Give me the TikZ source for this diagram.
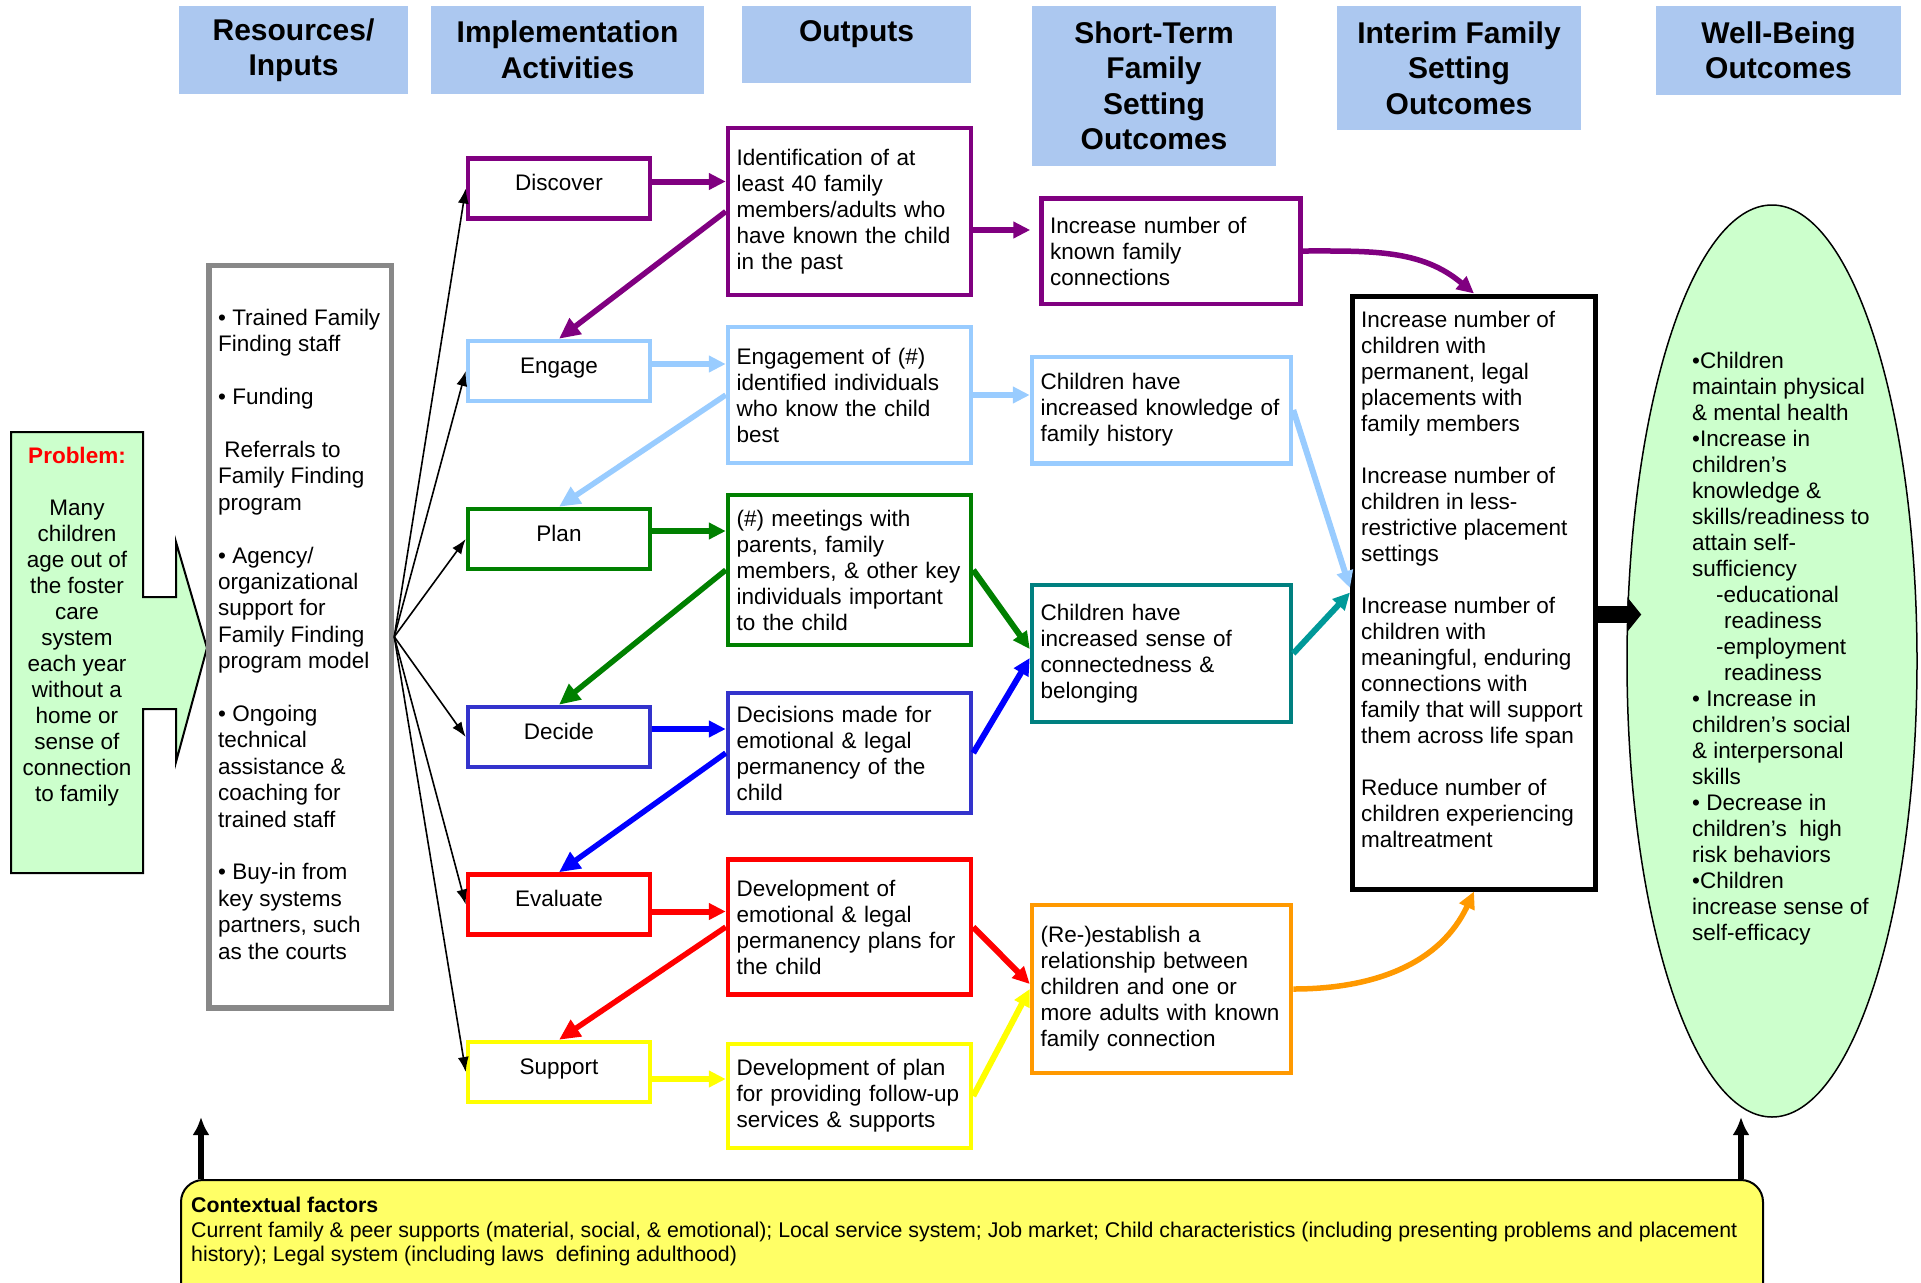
\documentclass[tikz,border=0pt]{standalone}
\usepackage{fontspec}
\setmainfont{Liberation Sans}
\usepackage{xcolor}
\usepackage{tikz}
\usetikzlibrary{calc}
\usetikzlibrary{arrows.meta}
\usetikzlibrary{shapes}
\usetikzlibrary{shapes.geometric}
\usetikzlibrary{positioning}

\definecolor{hdrblue}{RGB}{172,200,240}
\definecolor{ffpurple}{RGB}{128,0,128}
\definecolor{fflightblue}{RGB}{153,204,255}
\definecolor{ffgreen}{RGB}{0,128,0}
\definecolor{ffslate}{RGB}{51,51,204}
\definecolor{ffblue}{RGB}{0,0,255}
\definecolor{ffred}{RGB}{255,0,0}
\definecolor{ffyellow}{RGB}{255,255,0}
\definecolor{ffteal}{RGB}{0,128,128}
\definecolor{ffaqua}{RGB}{0,153,153}
\definecolor{fforange}{RGB}{255,153,0}
\definecolor{ffmint}{RGB}{204,255,204}
\definecolor{ffcream}{RGB}{255,255,102}
\definecolor{ffgray}{RGB}{136,136,136}

\newcommand{\hdrfont}{\fontsize{30}{35.5}\selectfont\bfseries}
\newcommand{\txtfont}{\fontsize{22.5}{26}\selectfont}
\newcommand{\resfont}{\fontsize{22.5}{26.4}\selectfont}
\newcommand{\ctxfont}{\fontsize{21.3}{24.5}\selectfont}

\tikzset{>=latex}
\tikzstyle{hdr} = [rectangle, fill = hdrblue, align = center, font = \hdrfont, inner sep = 0pt]
\tikzstyle{act} = [rectangle, draw, line width = 4.5pt, minimum width = 182pt, minimum height = 60pt, text height = 16pt, text depth = 12pt, font = \txtfont, inner sep = 0pt]
\tikzstyle{outp} = [rectangle, draw, line width = 4.5pt, minimum width = 243pt, text width = 226pt, inner xsep = 8.5pt, align = left, font = \txtfont]
\tikzstyle{stout} = [outp, minimum width = 259pt, text width = 242pt]
\tikzstyle{plain} = [align = left, font = \txtfont, anchor = north west, inner sep = 0pt]
\tikzstyle{fwd} = [line width = 6pt, -{Triangle[length = 17pt, width = 16pt]}]
\tikzstyle{back} = [line width = 5.5pt, -{Triangle[length = 21pt, width = 19pt]}]
\tikzstyle{feed} = [line width = 1.6pt, -{Latex[length = 15pt, width = 11pt]}]
\tikzstyle{rise} = [line width = 6pt, -{Latex[length = 18pt, width = 17pt]}]

\begin{document}
\begin{tikzpicture}[x = 1pt, y = -1pt]
\useasboundingbox (0, 0) rectangle (1921, 1282);

% column headers
\node [hdr, minimum width = 229pt, minimum height = 88pt] (hres) at (293.5, 50) {Resources/\\Inputs};
\node [hdr, minimum width = 273pt, minimum height = 88pt] (hact) at (567.5, 50) {Implementation\\Activities};
\node [hdr, minimum width = 229pt, text height = 26.5pt, text depth = 33.5pt, inner ysep = 8.5pt] (hout) at (856.5, 44.5) {Outputs};
\node [hdr, minimum width = 244pt, minimum height = 160pt] (hshort) at (1154, 86) {Short-Term\\Family\\Setting\\Outcomes};
\node [hdr, minimum width = 244pt, minimum height = 124pt] (hinterim) at (1459, 68) {Interim Family\\Setting\\Outcomes};
\node [hdr, minimum width = 245pt, minimum height = 89pt] (hwell) at (1778.5, 50.5) {Well-Being\\Outcomes};

% problem
\draw [fill = ffmint, line width = 2pt] (11, 432) -- (143, 432) -- (143, 597) -- (176, 597) -- (176, 542) -- (207, 648) -- (176, 762) -- (176, 709) -- (143, 709) -- (143, 873) -- (11, 873) -- cycle;
\node [align = center, font = \txtfont, anchor = north, inner sep = 0pt] (problem) at (77, 447) {\textcolor{red}{\textbf{Problem:}}\\[26pt]Many\\children\\age out of\\the foster\\care\\system\\each year\\without a\\home or\\sense of\\connection\\to family};

% resources
\node [rectangle, draw = ffgray, line width = 5.5pt, minimum width = 182.5pt, minimum height = 742.5pt] (res) at (300.25, 636.75) {};
\node [plain, font = \resfont] (restext) at (218, 309) {• Trained Family\\Finding staff\\[26.4pt]• Funding\\[26.4pt]\ Referrals to\\Family Finding\\program\\[26.4pt]• Agency/\\organizational\\support for\\Family Finding\\program model\\[26.4pt]• Ongoing\\technical\\assistance \&\\coaching for\\trained staff\\[26.4pt]• Buy-in from\\key systems\\partners, such\\as the courts};

% activities
\node [act, draw = ffpurple] (discover) at (559, 188.5) {Discover};
\node [act, draw = fflightblue] (engage) at (559, 371) {Engage};
\node [act, draw = ffgreen] (plan) at (559, 539) {Plan};
\node [act, draw = ffslate] (decide) at (559, 737) {Decide};
\node [act, draw = ffred] (evaluate) at (559, 904.5) {Evaluate};
\node [act, draw = ffyellow] (support) at (559, 1072) {Support};

% outputs
\node [outp, draw = ffpurple, minimum height = 167pt] (ident) at (849.5, 211.5) {Identification of at\\least 40 family\\members/adults who\\have known the child\\in the past};
\node [outp, draw = fflightblue, minimum height = 136pt] (engagement) at (849.5, 395) {Engagement of (\#)\\identified individuals\\who know the child\\best};
\node [outp, draw = ffgreen, minimum height = 150pt] (meetings) at (849.5, 570) {(\#) meetings with\\parents, family\\members, \& other key\\individuals important\\to the child};
\node [outp, draw = ffslate, minimum height = 120pt] (decisions) at (849.5, 753) {Decisions made for\\emotional \& legal\\permanency of the\\child};
\node [outp, draw = ffred, minimum height = 135pt] (plans) at (849.5, 927) {Development of\\emotional \& legal\\permanency plans for\\the child};
\node [outp, draw = ffyellow, minimum height = 104pt] (followup) at (849.5, 1096) {Development of plan\\for providing follow-up\\services \& supports};

% short-term outcomes
\node [stout, draw = ffpurple, minimum height = 105.5pt] (known) at (1171, 251) {Increase number of\\known family\\connections};
\node [stout, draw = fflightblue, minimum height = 106.5pt] (history) at (1161.5, 410) {Children have\\increased knowledge of\\family history};
\node [stout, draw = ffteal, minimum height = 137pt] (belong) at (1161.5, 653.5) {Children have\\increased sense of\\connectedness \&\\belonging};
\node [stout, draw = fforange, minimum height = 168pt] (reconnect) at (1161.5, 989) {(Re-)establish a\\relationship between\\children and one or\\more adults with known\\family connection};

% interim outcomes
\node [rectangle, draw, line width = 5pt, minimum width = 243pt, minimum height = 593pt] (interim) at (1474, 592.5) {};
\node [plain] (interimtext) at (1361, 311) {Increase number of\\children with\\permanent, legal\\placements with\\family members\\[26pt]Increase number of\\children in less-\\restrictive placement\\settings\\[26pt]Increase number of\\children with\\meaningful, enduring\\connections with\\family that will support\\them across life span\\[26pt]Reduce number of\\children experiencing\\maltreatment};

% well-being outcomes
\node [ellipse, draw, fill = ffmint, line width = 1.5pt, minimum width = 290pt, minimum height = 912pt, inner sep = 0pt] (wellbeing) at (1772, 661) {};
\node [plain] (welltext) at (1692, 352) {•Children\\maintain physical\\\& mental health\\•Increase in\\children’s\\knowledge \&\\skills/readiness to\\attain self-\\sufficiency\\\hspace*{24pt}-educational\\\hspace*{32pt}readiness\\\hspace*{24pt}-employment\\\hspace*{32pt}readiness\\• Increase in\\children’s social\\\& interpersonal\\skills\\• Decrease in\\children’s\ \ high\\risk behaviors\\•Children\\increase sense of\\self-efficacy};

% contextual factors
\node [rectangle, draw, fill = ffcream, line width = 2pt, rounded corners = 22pt, minimum width = 1582pt, minimum height = 140pt, anchor = north west] (ctx) at (180, 1179) {};
\node [plain, font = \ctxfont] (ctxtext) at (191, 1197) {\textbf{Contextual factors}\\Current family \& peer supports (material, social, \& emotional); Local service system; Job market; Child characteristics (including presenting problems and placement\\history); Legal system (including laws\ \ defining adulthood)};
\coordinate (ctxL) at (201, 1117);
\coordinate (ctxR) at (1741, 1117);
\draw [rise] (ctxL |- ctx.north) to (ctxL);
\draw [rise] (ctxR |- ctx.north) to (ctxR);

% resources feed every activity
\foreach \act in {discover, engage, plan, decide, evaluate, support}
  \draw [feed] (res.east) to (\act.west);

% activities to outputs
\draw [fwd, draw = ffpurple] ([yshift = 7pt]discover.east) to ([yshift = 7pt]discover.east -| ident.west);
\draw [fwd, draw = fflightblue] ([yshift = 7pt]engage.east) to ([yshift = 7pt]engage.east -| engagement.west);
\draw [fwd, draw = ffgreen] ([yshift = 8pt]plan.east) to ([yshift = 8pt]plan.east -| meetings.west);
\draw [fwd, draw = ffblue] ([yshift = 8pt]decide.east) to ([yshift = 8pt]decide.east -| decisions.west);
\draw [fwd, draw = ffred] ([yshift = -7pt]evaluate.east) to ([yshift = -7pt]evaluate.east -| plans.west);
\draw [fwd, draw = ffyellow] ([yshift = -7pt]support.east) to ([yshift = -7pt]support.east -| followup.west);

% outputs back to the next activity
\draw [back, draw = ffpurple] (ident.west) to (engage.north);
\draw [back, draw = fflightblue] (engagement.west) to (plan.north);
\draw [back, draw = ffgreen] (meetings.west) to (decide.north);
\draw [back, draw = ffblue] (decisions.west) to (evaluate.north);
\draw [back, draw = ffred] (plans.west) to (support.north);

% outputs to short-term outcomes
\draw [fwd, draw = ffpurple, shorten > = 9pt] ([yshift = -18.5pt]ident.east) to ([yshift = -18.5pt]ident.east -| known.west);
\draw [fwd, draw = fflightblue] (engagement.east) to (engagement.east -| history.west);
\draw [fwd, draw = ffgreen] (meetings.east) to ([yshift = 4.5pt]belong.west);
\draw [fwd, draw = ffblue] (decisions.east) to ([yshift = -4.5pt]belong.west);
\draw [fwd, draw = ffred] (plans.east) to ([yshift = 5pt]reconnect.west);
\draw [fwd, draw = ffyellow] (followup.east) to (reconnect.west);

% short-term to interim
\draw [fwd, line width = 5.5pt, draw = ffpurple] (known.east) to [out = 0, in = 140] (interim.north);
\draw [fwd, draw = fflightblue] (history.east) to ([yshift = 4.5pt]interim.west);
\draw [fwd, draw = ffaqua] (belong.east) to (interim.west);
\draw [fwd, line width = 5.5pt, draw = fforange] (reconnect.east) to [out = 0, in = -115] (interim.south);

% interim to well-being
\draw [line width = 17pt, -{Triangle[length = 14pt, width = 34pt]}, shorten > = -15pt] ([yshift = -22pt]interim.east) to ([yshift = -22pt]interim.east -| wellbeing.west);
\end{tikzpicture}
\end{document}
